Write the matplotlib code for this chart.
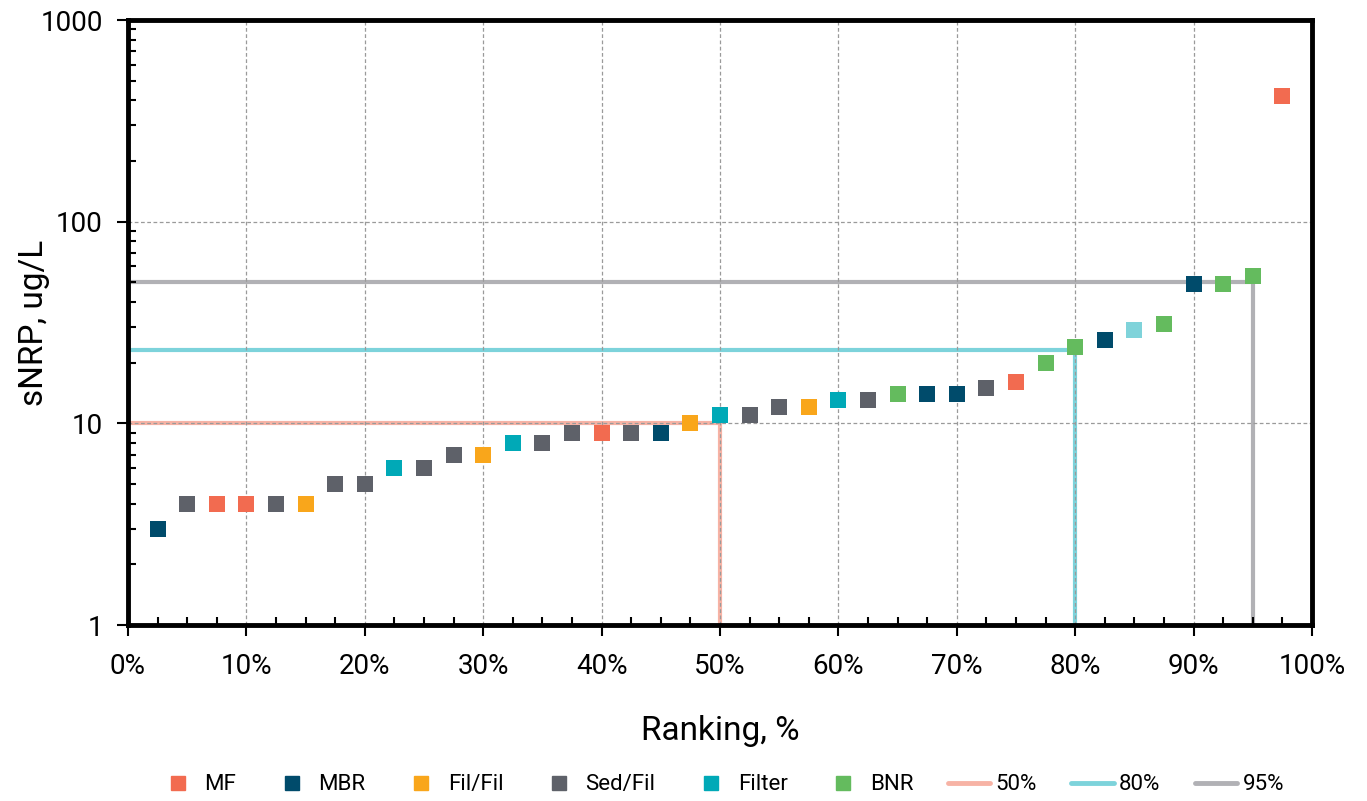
import numpy as np
import matplotlib.pyplot as plt
from matplotlib.ticker import FixedLocator, LogLocator, NullFormatter
from matplotlib.lines import Line2D

plt.rcParams['font.family'] = ['Roboto', 'DejaVu Sans']

# ranking position (%) and measured sNRP (ug/L) for each plant
ranking = np.arange(2.5, 100, 2.5)
snrp = [3, 4, 4, 4, 4, 4, 5, 5, 6, 6,
        7, 7, 8, 8, 9, 9, 9, 9, 10, 11,
        11, 12, 12, 13, 13, 14, 14, 14, 15, 16,
        20, 24, 26, 29, 31, 49, 49, 54, 420]
process = ['MBR', 'Sed/Fil', 'MF', 'MF', 'Sed/Fil', 'Fil/Fil', 'Sed/Fil', 'Sed/Fil', 'Filter', 'Sed/Fil',
           'Sed/Fil', 'Fil/Fil', 'Filter', 'Sed/Fil', 'Sed/Fil', 'MF', 'Sed/Fil', 'MBR', 'Fil/Fil', 'Filter',
           'Sed/Fil', 'Sed/Fil', 'Fil/Fil', 'Filter', 'Sed/Fil', 'BNR', 'MBR', 'MBR', 'Sed/Fil', 'MF',
           'BNR', 'BNR', 'MBR', 'Filter', 'BNR', 'MBR', 'BNR', 'BNR', 'MF']
# one filter plant is shown faded
faded = [False] * 33 + [True] + [False] * 5

process_names = ['MF', 'MBR', 'Fil/Fil', 'Sed/Fil', 'Filter', 'BNR']
process_colors = ['#F26B50', '#004B6B', '#F9A61B', '#5E6169', '#00A9B7', '#64BB5E']

# percentile markers
pct_labels = ['50%', '80%', '95%']
pct_rank = [50, 80, 95]
pct_value = [10, 23.2, 50.5]
pct_colors = ['#F7B3A5', '#7DD3DB', '#B1B1B5']

fig = plt.figure(figsize=(13.67, 8.01), dpi=100)
ax = fig.add_axes([0.0936, 0.2197, 0.8662, 0.7553])

for lab, r, v, c in zip(pct_labels, pct_rank, pct_value, pct_colors):
    ax.plot([0, r, r], [v, v, 1], color=c, lw=3, zorder=2)

color_map = dict(zip(process_names, process_colors))
for x, y, p, f in zip(ranking, snrp, process, faded):
    ax.scatter(x, y, marker='s', s=125, color=color_map[p], alpha=0.5 if f else 1.0,
               linewidths=0, zorder=4)

ax.set_yscale('log')
ax.set_xlim(0, 100)
ax.set_ylim(1, 1000)

ax.xaxis.set_major_locator(FixedLocator(np.arange(0, 101, 10)))
ax.xaxis.set_minor_locator(FixedLocator(np.arange(0, 100.1, 2.5)))
ax.set_xticklabels(['%d%%' % v for v in range(0, 101, 10)])
ax.yaxis.set_major_locator(FixedLocator([1, 10, 100, 1000]))
ax.set_yticklabels(['1', '10', '100', '1000'])
ax.yaxis.set_minor_locator(LogLocator(base=10, subs=np.arange(2, 10)))
ax.yaxis.set_minor_formatter(NullFormatter())

ax.grid(True, which='major', color='#9A9A9A', linestyle=(0, (3, 2)), lw=0.9, zorder=3)
ax.set_axisbelow(False)

ax.tick_params(which='major', direction='out', length=8, width=1.5, labelsize=20, pad=10)
ax.tick_params(axis='x', which='major', pad=12)
ax.tick_params(which='minor', direction='in', length=6, width=1.5)
for sp in ax.spines.values():
    sp.set_linewidth(3.5)
    sp.set_color('black')
    sp.set_zorder(5)

ax.set_xlabel('Ranking, %', fontsize=24)
ax.xaxis.set_label_coords(0.5, -0.148)
ax.set_ylabel('sNRP, ug/L', fontsize=24)
ax.yaxis.set_label_coords(-0.066, 0.5)

handles = [Line2D([], [], marker='s', ls='none', color=c, markersize=10) for c in process_colors]
handles += [Line2D([], [], color=c, lw=3.5, solid_capstyle='round') for c in pct_colors]
fig.legend(handles, process_names + pct_labels, loc='lower center', bbox_to_anchor=(0.527, -0.018),
           ncol=9, frameon=False, fontsize=16, handlelength=1.9, handletextpad=0.25,
           columnspacing=1.55)

fig.savefig('out.png', dpi=100)
